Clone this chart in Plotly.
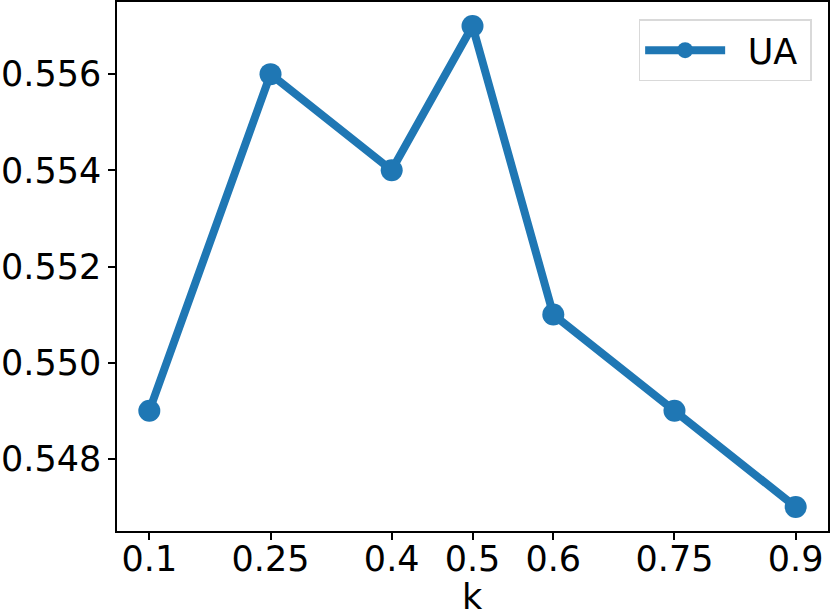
import plotly.graph_objects as go

k_values = [0.1, 0.25, 0.4, 0.5, 0.6, 0.75, 0.9]
ua_values = [0.549, 0.556, 0.554, 0.557, 0.551, 0.549, 0.547]
x_tick_labels = ["0.1", "0.25", "0.4", "0.5", "0.6", "0.75", "0.9"]
y_ticks = [0.548, 0.550, 0.552, 0.554, 0.556]
series_name = "UA"
x_title = "k"

FONT = "DejaVu Sans"
BLUE = "#1f77b4"

fig = go.Figure()
fig.add_trace(go.Scatter(
    x=k_values, y=ua_values, mode="lines+markers",
    name="\u2002" + series_name + "\u2009",
    line=dict(color=BLUE, width=8),
    marker=dict(color=BLUE, size=22),
))

fig.add_annotation(
    text=x_title, xref="paper", yref="paper", x=0.5, y=-0.083,
    xanchor="center", yanchor="top", showarrow=False,
    font=dict(family=FONT, size=35, color="black"),
)

fig.update_layout(
    width=830, height=609,
    margin=dict(l=117, r=2, t=2, b=78),
    paper_bgcolor="white", plot_bgcolor="white",
    font=dict(family=FONT, size=35, color="black"),
    showlegend=True,
    legend=dict(
        x=0.977, y=0.967, xanchor="right", yanchor="top",
        bordercolor="#d9d9d9", borderwidth=1.5, bgcolor="rgba(255,255,255,0.8)",
        font=dict(family=FONT, size=35, color="black"),
        itemwidth=80,
    ),
    xaxis=dict(
        range=[0.06, 0.94], tickmode="array", tickvals=k_values, ticktext=x_tick_labels,
        showgrid=False, zeroline=False, showline=True, linecolor="black", linewidth=1.5,
        mirror=True, ticks="outside", ticklen=7, tickwidth=1.5, tickcolor="black",
        ticklabelstandoff=-11,
        automargin=False,
    ),
    yaxis=dict(
        range=[0.5465, 0.5575], tickmode="array", tickvals=y_ticks,
        tickformat=".3f",
        showgrid=False, zeroline=False, showline=True, linecolor="black", linewidth=1.5,
        mirror=True, ticks="outside", ticklen=7, tickwidth=1.5, tickcolor="black",
        ticklabelstandoff=0,
        automargin=False,
    ),
)

fig.write_html("out.html", config={"displayModeBar": False},
               post_script="document.body.style.margin='0';")
